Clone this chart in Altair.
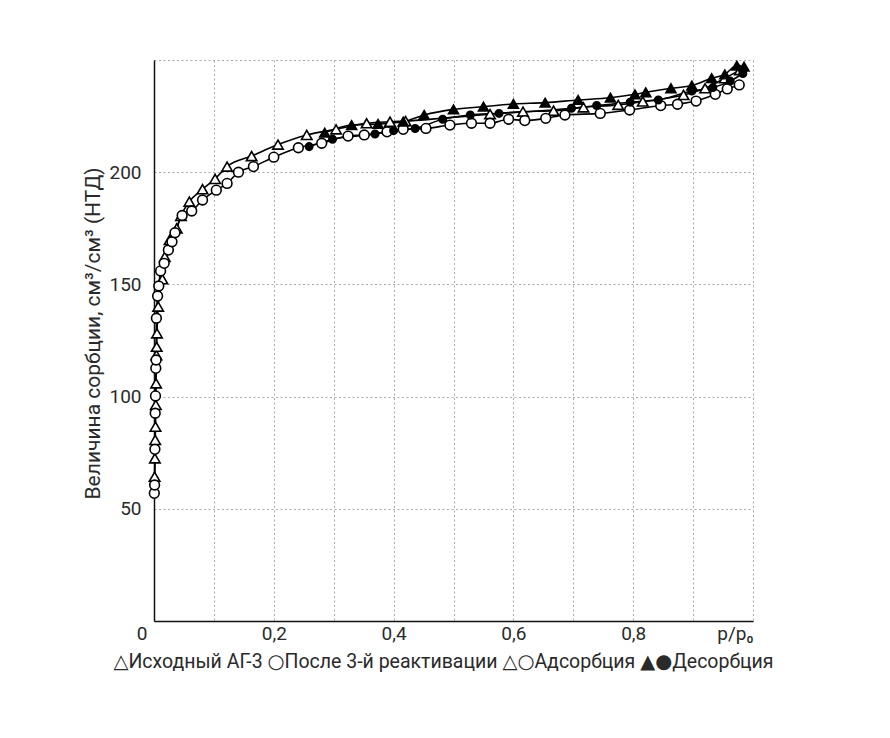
import altair as alt
import pandas as pd

# Исходный АГ-3, адсорбция (open triangles)
src_ads_x = [0.001, 0.0015, 0.002, 0.0025, 0.003, 0.0035, 0.004, 0.0045, 0.005, 0.007, 0.014,
             0.018, 0.026, 0.038, 0.045, 0.059, 0.081, 0.102, 0.122, 0.163, 0.207, 0.255,
             0.304, 0.355, 0.394, 0.420, 0.561, 0.616, 0.667, 0.717, 0.775, 0.816, 0.884,
             0.920, 0.953, 0.978]
src_ads_y = [64.3, 72.5, 80.7, 86.6, 96.3, 105.9, 118.5, 122.2, 128.2, 140.1, 152.3,
             162.3, 169.8, 175.0, 180.5, 186.9, 192.4, 197.0, 202.5, 207.2, 212.3, 216.6,
             219.1, 221.8, 222.5, 222.8, 225.9, 227.0, 227.4, 228.9, 230.0, 231.5, 234.4,
             237.4, 241.9, 245.5]

# Исходный АГ-3, десорбция (filled triangles)
src_des_x = [0.285, 0.330, 0.374, 0.416, 0.451, 0.500, 0.550, 0.600, 0.653, 0.708, 0.762,
             0.803, 0.821, 0.863, 0.898, 0.931, 0.953, 0.973, 0.985]
src_des_y = [217.6, 221.0, 221.5, 222.5, 225.5, 228.0, 229.2, 230.4, 231.0, 232.2, 233.2,
             234.7, 235.6, 237.4, 238.6, 241.9, 243.6, 247.5, 247.0]

# После 3-й реактивации, адсорбция (open circles)
react_ads_x = [0.0005, 0.001, 0.0015, 0.002, 0.0025, 0.003, 0.0035, 0.004, 0.006, 0.008,
               0.011, 0.017, 0.024, 0.030, 0.035, 0.047, 0.063, 0.081, 0.104, 0.122, 0.141,
               0.166, 0.200, 0.241, 0.280, 0.324, 0.351, 0.389, 0.416, 0.454, 0.494, 0.530,
               0.561, 0.592, 0.619, 0.654, 0.686, 0.745, 0.794, 0.846, 0.874, 0.905, 0.937,
               0.957, 0.977]
react_ads_y = [56.9, 60.6, 76.5, 92.6, 100.3, 112.6, 116.3, 134.9, 144.8, 149.3,
               156.0, 159.4, 165.3, 169.0, 173.0, 180.7, 182.7, 187.6, 192.0, 195.0, 200.0,
               202.5, 206.7, 210.9, 212.9, 216.1, 216.6, 218.0, 219.1, 219.5, 221.0, 221.8,
               221.8, 223.6, 223.0, 224.0, 225.5, 226.2, 227.7, 229.7, 230.3, 231.7, 234.7,
               237.1, 238.9]

# После 3-й реактивации, десорбция (filled circles)
react_des_x = [0.259, 0.298, 0.369, 0.400, 0.436, 0.482, 0.528, 0.576, 0.697, 0.739, 0.795,
               0.842, 0.898, 0.933, 0.962, 0.983]
react_des_y = [211.4, 214.7, 217.0, 218.5, 219.5, 223.6, 225.5, 226.2, 228.5, 229.7, 231.2,
               232.2, 236.2, 237.7, 240.6, 244.0]

x_ticks = [0, 0.1, 0.2, 0.3, 0.4, 0.5, 0.6, 0.7, 0.8, 0.9, 1.0]
y_ticks = [0, 50, 100, 150, 200, 250]

y_title = "Величина сорбции, см³/см³ (НТД)"
legend_text = "△Исходный АГ-3  ○После 3-й реактивации  △○Адсорбция  ▲●Десорбция"

FONT = "Roboto, DejaVu Sans"
TXT = "#2a2a2a"
GRID = "#ababab"


def frame(xs, ys):
    return pd.DataFrame({"x": xs, "y": ys})


x_enc = alt.X(
    "x:Q",
    scale=alt.Scale(domain=[0, 1], nice=False),
    axis=alt.Axis(
        values=x_ticks,
        title=None,
        grid=True,
        gridDash=[2, 2.5],
        gridColor=GRID,
        gridWidth=1,
        ticks=False,
        domainColor="#111111",
        domainWidth=1.5,
        labelFlush=False,
        labelOverlap=False,
        labelFont=FONT,
        labelFontSize=19,
        labelColor=TXT,
        labelPadding=3,
        labelExpr=(
            "datum.value == 0 ? '0' : datum.value >= 0.99 ? 'p/p₀' : "
            "(round(datum.value * 10) % 2 == 0 ? replace(format(datum.value, '.1f'), '.', ',') : '')"
        ),
        labelAlign={"condition": {"test": "datum.value == 0 || datum.value >= 0.99", "value": "right"},
                    "value": "center"},
        labelOffset={"condition": {"test": "datum.value == 0", "value": -7}, "value": 0},
    ),
)

y_enc = alt.Y(
    "y:Q",
    scale=alt.Scale(domain=[0, 250], nice=False),
    axis=alt.Axis(
        values=y_ticks,
        title=y_title,
        titleFont=FONT,
        titleFontSize=21,
        titleFontWeight="normal",
        titleColor=TXT,
        titleX=-61,
        titleY=273,
        titleBaseline="middle",
        grid=True,
        gridDash=[2, 2.5],
        gridColor=GRID,
        gridWidth=1,
        ticks=False,
        domainColor="#111111",
        domainWidth=1.5,
        labelFont=FONT,
        labelFontSize=19,
        labelColor=TXT,
        labelPadding=13,
        labelExpr="datum.value == 0 || datum.value == 250 ? '' : datum.label",
    ),
)


def line(df):
    return alt.Chart(df).mark_line(color="black", strokeWidth=1.6, interpolate="monotone").encode(
        x=x_enc, y=y_enc, order="x:Q"
    )


def pts(df, shape, filled, size):
    return alt.Chart(df).mark_point(
        shape=shape,
        filled=True,
        fill="black" if filled else "white",
        stroke="black",
        strokeWidth=1.6,
        size=size,
        opacity=1,
    ).encode(x=x_enc, y=y_enc)


d_sa = frame(src_ads_x, src_ads_y)
d_sd = frame(src_des_x, src_des_y)
d_ra = frame(react_ads_x, react_ads_y)
d_rd = frame(react_des_x, react_des_y)

chart = alt.layer(
    line(d_sa),
    line(d_sd),
    line(d_ra),
    line(d_rd),
    pts(d_sa, "triangle-up", False, 110),
    pts(d_ra, "circle", False, 95),
    pts(d_sd, "triangle-up", True, 100),
    pts(d_rd, "circle", True, 55),
).properties(
    width=599,
    height=561,
    autosize=alt.AutoSizeParams(type="none"),
    padding={"left": 146, "top": 52, "right": 30, "bottom": 100},
    title=alt.TitleParams(
        text=legend_text,
        orient="bottom",
        anchor="middle",
        offset=10,
        dx=-10,
        font=FONT,
        fontSize=19.5,
        fontWeight="normal",
        color=TXT,
    ),
).configure_view(stroke="transparent")

chart.save("out.html", embed_options={"renderer": "svg", "actions": False})
